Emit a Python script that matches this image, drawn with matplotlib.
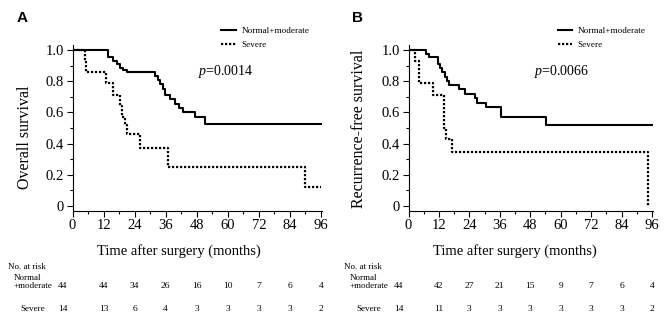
import numpy as np
import matplotlib
matplotlib.use("Agg")
import matplotlib.pyplot as plt
from matplotlib.transforms import blended_transform_factory

plt.rcParams['font.family'] = ['Liberation Serif', 'DejaVu Serif']
plt.rcParams['mathtext.fontset'] = 'custom'
plt.rcParams['mathtext.rm'] = 'Liberation Serif'
plt.rcParams['mathtext.it'] = 'Liberation Serif:italic'

# panel A: overall survival (step points)
a_norm_t = [0, 13.6, 15.8, 17.3, 18.3, 19.6, 20.9, 31.9, 33.0, 34.0, 35.0, 35.8, 37.8, 39.7, 41.0, 42.6, 47.4, 51.3, 96]
a_norm_s = [1.0, 0.955, 0.932, 0.909, 0.886, 0.870, 0.857, 0.833, 0.808, 0.78, 0.75, 0.71, 0.683, 0.655, 0.63, 0.605, 0.57, 0.525, 0.525]
a_sev_t = [0, 4.8, 5.4, 12.9, 15.5, 18.3, 19.3, 20.2, 20.9, 26.1, 37.0, 89.8, 96]
a_sev_s = [1.0, 0.929, 0.857, 0.786, 0.714, 0.643, 0.571, 0.52, 0.464, 0.371, 0.247, 0.124, 0.124]

# panel B: recurrence-free survival
b_norm_t = [0, 7.0, 8.0, 11.6, 12.5, 13.3, 14.3, 15.1, 15.9, 19.8, 22.1, 26.1, 27.1, 30.7, 36.3, 54.1, 96]
b_norm_s = [1.0, 0.977, 0.955, 0.91, 0.886, 0.861, 0.83, 0.80, 0.773, 0.75, 0.72, 0.69, 0.662, 0.636, 0.572, 0.522, 0.522]
b_sev_t = [0, 2.4, 4.3, 9.6, 13.9, 14.9, 17.1, 94.3]
b_sev_s = [1.0, 0.929, 0.786, 0.714, 0.5, 0.43, 0.346, 0.0]

risk_times = [0, 12, 24, 36, 48, 60, 72, 84, 96]
a_risk_norm = [44, 44, 34, 26, 16, 10, 7, 6, 4]
a_risk_sev = [14, 13, 6, 4, 3, 3, 3, 3, 2]
b_risk_norm = [44, 42, 27, 21, 15, 9, 7, 6, 4]
b_risk_sev = [14, 11, 3, 3, 3, 3, 3, 3, 2]

group_names = ["Normal+moderate", "Severe"]
yticks = [0, 0.2, 0.4, 0.6, 0.8, 1.0]
ytick_labels = ["0", "0.2", "0.4", "0.6", "0.8", "1.0"]

W, H = 669, 335
fig = plt.figure(figsize=(W / 100, H / 100), dpi=100)


def fx(px):
    return px / W


def fy(py):
    return 1 - py / H


def panel(left_px, right_px, letter, ylabel, ylab_x, ylab_y, pval,
          norm_t, norm_s, sev_t, sev_s, risk_norm, risk_sev):
    ax = fig.add_axes([fx(left_px), fy(211), fx(right_px - left_px), (211 - 45) / H])
    ax.step(norm_t, norm_s, where='post', color='black', lw=1.5, label=group_names[0])
    ax.step(sev_t, sev_s, where='post', color='black', lw=1.6,
            linestyle=(0, (1, 0.8)), label=group_names[1])
    ax.set_xlim(0, 96.4)
    ax.set_ylim(-0.032, 1.032)
    ax.spines['top'].set_visible(False)
    ax.spines['right'].set_visible(False)
    ax.spines['left'].set_linewidth(0.8)
    ax.spines['bottom'].set_linewidth(0.8)
    ax.set_xticks(np.arange(0, 97, 12))
    ax.set_xticks(np.arange(0, 97, 6), minor=True)
    ax.set_yticks(yticks)
    ax.set_yticklabels(ytick_labels)
    ax.set_yticks(np.arange(0, 1.01, 0.1), minor=True)
    ax.tick_params(which='major', length=4, width=0.8, labelsize=10.5, pad=2)
    ax.tick_params(which='minor', length=2.5, width=0.8)

    fig.text(fx(left_px + 106), fy(251), "Time after surgery (months)",
             ha='center', va='center', fontsize=10.5)
    fig.text(fx(ylab_x), fy(ylab_y), ylabel, rotation=90,
             ha='center', va='center', fontsize=11.5)
    fig.text(fx(left_px - 50.5), fy(18), letter, family='Liberation Sans',
             weight='bold', fontsize=11, ha='center', va='center')
    fig.text(fx(left_px + 125.5), fy(72), r"$p$=" + pval, fontsize=10,
             ha='left', va='center')

    ax.legend(loc='upper left', bbox_to_anchor=(fx(left_px + 149), fy(27)),
              bbox_transform=fig.transFigure, frameon=False, fontsize=6.6,
              handlelength=1.6, handletextpad=0.6, borderpad=0,
              borderaxespad=0, labelspacing=0.6)

    # number at risk table
    tr = blended_transform_factory(ax.transData, fig.transFigure)
    fig.text(fx(left_px - 64), fy(267), "No. at risk", fontsize=6.5, ha='left', va='center')
    fig.text(fx(left_px - 59), fy(277.5), "Normal", fontsize=6.5, ha='left', va='center')
    fig.text(fx(left_px - 59), fy(286.5), "+moderate", fontsize=6.5, ha='left', va='center')
    fig.text(fx(left_px - 52), fy(309), "Severe", fontsize=6.5, ha='left', va='center')
    for i, t in enumerate(risk_times):
        xpos = t if t > 0 else -3.8
        ax.text(xpos, fy(286.5), str(risk_norm[i]), transform=tr, fontsize=6.8,
                ha='center', va='center', clip_on=False)
        ax.text(xpos, fy(309), str(risk_sev[i]), transform=tr, fontsize=6.8,
                ha='center', va='center', clip_on=False)
    return ax


panel(72.5, 322, "A", "Overall survival", 25, 137, "0.0014",
      a_norm_t, a_norm_s, a_sev_t, a_sev_s, a_risk_norm, a_risk_sev)
panel(408.5, 653, "B", "Recurrence-free survival", 359, 129, "0.0066",
      b_norm_t, b_norm_s, b_sev_t, b_sev_s, b_risk_norm, b_risk_sev)

fig.savefig("out.png", dpi=100)
